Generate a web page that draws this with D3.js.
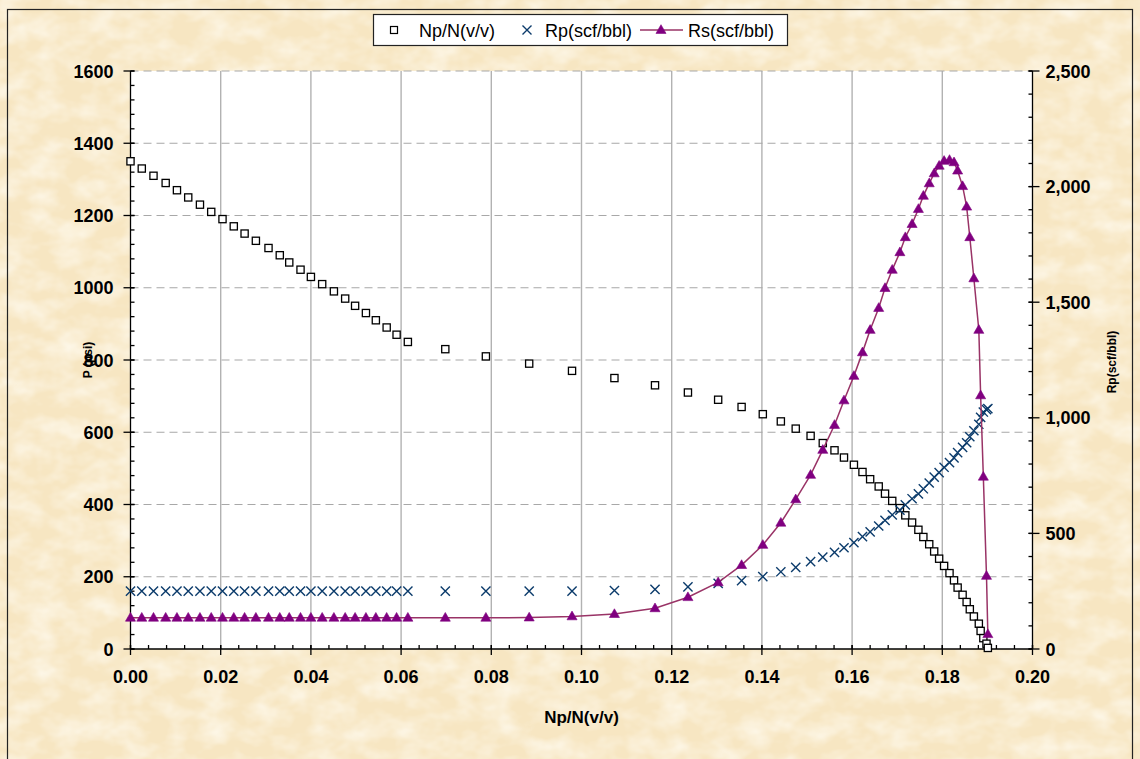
<!DOCTYPE html>
<html>
<head>
<meta charset="utf-8">
<script src="https://cdn.jsdelivr.net/npm/d3@7/dist/d3.min.js"></script>
<style>
  html, body { margin: 0; padding: 0; background: #F8E9C8; }
  svg { display: block; }
  text { font-family: "Liberation Sans", Arial, sans-serif; }
</style>
</head>
<body>
<svg id="chart" width="1140" height="759"></svg>
<script>
// ---------------- DATA ----------------
const npn = [
  0.0000, 0.0025, 0.0051, 0.0078, 0.0103, 0.0128, 0.0154, 0.0179, 0.0204, 0.0229,
  0.0253, 0.0278, 0.0306, 0.0331, 0.0352, 0.0377, 0.0400, 0.0425, 0.0451, 0.0476,
  0.0498, 0.0522, 0.0544, 0.0568, 0.0590, 0.0615,
  0.0698, 0.0788, 0.0884, 0.0979, 0.1073, 0.1163, 0.1236, 0.1303, 0.1355, 0.1402,
  0.1442, 0.1475, 0.1508, 0.1535,
  0.1561, 0.1582, 0.1604, 0.1623, 0.1640, 0.1659, 0.1673, 0.1689, 0.1706, 0.1718,
  0.1733, 0.1747, 0.1758, 0.1771, 0.1782, 0.1793, 0.1804, 0.1816, 0.1826, 0.1834,
  0.1845, 0.1854, 0.1861, 0.1870, 0.1881, 0.1885, 0.1891, 0.1898, 0.1901
];
const pressure = [
  1350, 1330, 1310, 1290, 1270, 1250, 1230, 1210, 1190, 1170,
  1150, 1130, 1110, 1090, 1070, 1050, 1030, 1010, 990, 970,
  950, 930, 910, 890, 870, 850,
  830, 810, 790, 770, 750, 730, 710, 690, 670, 650,
  630, 610, 590, 570,
  550, 530, 510, 490, 470, 450, 430, 410, 390, 370,
  350, 330, 310, 290, 270, 250, 230, 210, 190, 170,
  150, 130, 110, 90, 70, 50, 30, 14.7, 3
];
const rp = [
  250, 250, 250, 250, 250, 250, 250, 250, 250, 250,
  250, 250, 250, 250, 250, 250, 250, 250, 250, 250,
  250, 250, 250, 250, 250, 250,
  250, 250, 250, 250, 253, 258, 269, 284, 296, 313,
  334, 353, 378, 397,
  418, 438, 460, 486, 507, 532, 556, 580, 601, 623,
  650, 671, 693, 718, 743, 763, 786, 806, 827, 849,
  872, 892, 918, 944, 972, 1002, 1025, 1035, 1040
];
const rs = [
  135, 135, 135, 135, 135, 135, 135, 135, 135, 135,
  135, 135, 135, 135, 135, 135, 135, 135, 135, 135,
  135, 135, 135, 135, 135, 135,
  135, 135, 136, 141, 151, 176, 224, 288, 363, 450,
  546, 647, 753, 861,
  969, 1075, 1181, 1283, 1380, 1475, 1561, 1640, 1716, 1781,
  1838, 1903, 1960, 2014, 2057, 2090, 2111, 2115, 2105, 2069,
  2002, 1913, 1781, 1603, 1380, 1097, 745, 316, 64
];
const xTicks = [0, 0.02, 0.04, 0.06, 0.08, 0.10, 0.12, 0.14, 0.16, 0.18, 0.20];
const yLeftTicks = [0, 200, 400, 600, 800, 1000, 1200, 1400, 1600];
const yRightTicks = [0, 500, 1000, 1500, 2000, 2500];
const seriesNames = ["Np/N(v/v)", "Rp(scf/bbl)", "Rs(scf/bbl)"];
const xTitle = "Np/N(v/v)";
const yLeftTitle = "P (psi)";
const yRightTitle = "Rp(scf/bbl)";

// ---------------- LAYOUT ----------------
const W = 1140, H = 759;
const plot = { left: 130.5, right: 1032.5, top: 71, bottom: 649 };
const svg = d3.select("#chart");
const FONT = '"Liberation Sans", Arial, sans-serif';

// background with subtle paper texture
const defs = svg.append("defs");
const f = defs.append("filter").attr("id", "paper")
  .attr("x", 0).attr("y", 0).attr("width", W).attr("height", H)
  .attr("filterUnits", "userSpaceOnUse");
f.append("feTurbulence").attr("type", "fractalNoise")
  .attr("baseFrequency", "0.035 0.05").attr("numOctaves", 3).attr("seed", 11).attr("result", "n");
f.append("feColorMatrix").attr("type", "matrix")
  .attr("values", "0 0 0 0 1  0 0 0 0 0.975  0 0 0 0 0.90  1.3 0 0 0 -0.45");

svg.append("rect").attr("x", 0).attr("y", 0).attr("width", W).attr("height", H).attr("fill", "#F7E6C2");
svg.append("rect").attr("x", 0).attr("y", 0).attr("width", W).attr("height", H)
  .attr("filter", "url(#paper)");
// outer border
svg.append("rect").attr("x", 7.5).attr("y", 9.5).attr("width", 1125).attr("height", 760)
  .attr("fill", "none").attr("stroke", "#222").attr("stroke-width", 1.2);

// plot area
svg.append("rect").attr("x", plot.left).attr("y", plot.top)
  .attr("width", plot.right - plot.left).attr("height", plot.bottom - plot.top)
  .attr("fill", "#ffffff");

const x = d3.scaleLinear().domain([0, 0.2]).range([plot.left, plot.right]);
const yL = d3.scaleLinear().domain([0, 1600]).range([plot.bottom, plot.top]);
const yR = d3.scaleLinear().domain([0, 2500]).range([plot.bottom, plot.top]);

// gridlines
const grid = svg.append("g");
grid.selectAll("line.v").data(xTicks.filter(t => t > 0 && t < 0.2)).enter().append("line")
  .attr("x1", d => x(d)).attr("x2", d => x(d)).attr("y1", plot.top).attr("y2", plot.bottom)
  .attr("stroke", "#B2B2B2").attr("stroke-width", 1.4);
grid.selectAll("line.h").data(yLeftTicks.filter(t => t > 0)).enter().append("line")
  .attr("x1", plot.left).attr("x2", plot.right).attr("y1", d => yL(d)).attr("y2", d => yL(d))
  .attr("stroke", "#A8A8A8").attr("stroke-width", 1.2).attr("stroke-dasharray", "8,5");

// axes
const axisG = svg.append("g").attr("stroke", "#000").attr("stroke-width", 1.3);
axisG.append("line").attr("x1", plot.left).attr("x2", plot.right).attr("y1", plot.bottom).attr("y2", plot.bottom);
const xMinor = d3.range(0, 51).map(i => i * 0.004);
axisG.selectAll("line.xm").data(xMinor).enter().append("line")
  .attr("x1", d => x(d)).attr("x2", d => x(d)).attr("y1", plot.bottom).attr("y2", plot.bottom - 4);
axisG.selectAll("line.xM").data(xTicks).enter().append("line")
  .attr("x1", d => x(d)).attr("x2", d => x(d)).attr("y1", plot.bottom - 4).attr("y2", plot.bottom + 6);
axisG.append("line").attr("x1", plot.left).attr("x2", plot.left).attr("y1", plot.top).attr("y2", plot.bottom);
const yLMinor = d3.range(0, 41).map(i => i * 40);
axisG.selectAll("line.ylm").data(yLMinor).enter().append("line")
  .attr("x1", plot.left).attr("x2", plot.left + 4).attr("y1", d => yL(d)).attr("y2", d => yL(d));
axisG.selectAll("line.ylM").data(yLeftTicks).enter().append("line")
  .attr("x1", plot.left - 7).attr("x2", plot.left + 4).attr("y1", d => yL(d)).attr("y2", d => yL(d));
axisG.append("line").attr("x1", plot.right).attr("x2", plot.right).attr("y1", plot.top).attr("y2", plot.bottom);
const yRMinor = d3.range(0, 26).map(i => i * 100);
axisG.selectAll("line.yrm").data(yRMinor).enter().append("line")
  .attr("x1", plot.right - 4).attr("x2", plot.right).attr("y1", d => yR(d)).attr("y2", d => yR(d));
axisG.selectAll("line.yrM").data(yRightTicks).enter().append("line")
  .attr("x1", plot.right - 4).attr("x2", plot.right + 7).attr("y1", d => yR(d)).attr("y2", d => yR(d));

// tick labels
const lab = svg.append("g").attr("font-family", FONT).attr("font-weight", "bold").attr("font-size", 18).attr("fill", "#000");
lab.selectAll("text.x").data(xTicks).enter().append("text")
  .attr("x", d => x(d)).attr("y", plot.bottom + 34).attr("text-anchor", "middle")
  .text(d => d3.format(".2f")(d));
lab.selectAll("text.yl").data(yLeftTicks).enter().append("text")
  .attr("x", plot.left - 17).attr("y", d => yL(d) + 6.5).attr("text-anchor", "end")
  .text(d => d);
lab.selectAll("text.yr").data(yRightTicks).enter().append("text")
  .attr("x", plot.right + 13).attr("y", d => yR(d) + 6.5).attr("text-anchor", "start")
  .text(d => d3.format(",")(d));

// axis titles
svg.append("text").attr("x", (plot.left + plot.right) / 2).attr("y", 723)
  .attr("text-anchor", "middle").attr("font-family", FONT).attr("font-weight", "bold")
  .attr("font-size", 17).text(xTitle);
svg.append("text").attr("transform", "translate(92,360) rotate(-90)")
  .attr("text-anchor", "middle").attr("font-family", FONT).attr("font-weight", "bold")
  .attr("font-size", 12).text(yLeftTitle);
svg.append("text").attr("transform", "translate(1116,362) rotate(-90)")
  .attr("text-anchor", "middle").attr("font-family", FONT).attr("font-weight", "bold")
  .attr("font-size", 12).text(yRightTitle);

// ---------------- SERIES ----------------
const rows = npn.map((v, i) => ({ x: v, p: pressure[i], rp: rp[i], rs: rs[i] }));
const sq = 3.6;
const tri = d3.symbol().type(d3.symbolTriangle).size(44);

svg.append("g").selectAll("rect").data(rows).enter().append("rect")
  .attr("x", d => x(d.x) - sq).attr("y", d => yL(d.p) - sq)
  .attr("width", sq * 2).attr("height", sq * 2)
  .attr("fill", "#fff").attr("stroke", "#000").attr("stroke-width", 1.3);

const xs = 4.6;
const gx = svg.append("g").attr("stroke", "#0B3B6B").attr("stroke-width", 1.4);
gx.selectAll("path").data(rows).enter().append("path")
  .attr("d", d => {
    const cx = x(d.x), cy = yR(d.rp);
    return `M${cx - xs},${cy - xs}L${cx + xs},${cy + xs}M${cx - xs},${cy + xs}L${cx + xs},${cy - xs}`;
  });

svg.append("path").datum(rows)
  .attr("d", d3.line().x(d => x(d.x)).y(d => yR(d.rs)))
  .attr("fill", "none").attr("stroke", "#993366").attr("stroke-width", 1.5);
svg.append("g").selectAll("path").data(rows).enter().append("path")
  .attr("transform", d => `translate(${x(d.x)},${yR(d.rs) + 0.5})`)
  .attr("d", tri).attr("fill", "#800080").attr("stroke", "#800080").attr("stroke-width", 0.6);

// ---------------- LEGEND ----------------
const lg = svg.append("g");
lg.append("rect").attr("x", 373.5).attr("y", 14.5).attr("width", 414).attr("height", 31)
  .attr("fill", "#fff").attr("stroke", "#222").attr("stroke-width", 1.2);
const ly = 30;
lg.append("rect").attr("x", 394 - 3.5).attr("y", ly - 3.5).attr("width", 7).attr("height", 7)
  .attr("fill", "#fff").attr("stroke", "#000").attr("stroke-width", 1.2);
lg.append("path")
  .attr("d", `M${527 - 4.5},${ly - 4.5}L${527 + 4.5},${ly + 4.5}M${527 - 4.5},${ly + 4.5}L${527 + 4.5},${ly - 4.5}`)
  .attr("stroke", "#0B3B6B").attr("stroke-width", 1.4);
lg.append("line").attr("x1", 640).attr("x2", 683).attr("y1", ly).attr("y2", ly)
  .attr("stroke", "#993366").attr("stroke-width", 1.5);
lg.append("path").attr("transform", `translate(661,${ly + 0.5})`).attr("d", tri)
  .attr("fill", "#800080").attr("stroke", "#800080").attr("stroke-width", 0.6);
const legX = [419, 545, 688];
lg.selectAll("text").data(seriesNames).enter().append("text")
  .attr("x", (d, i) => legX[i]).attr("y", ly + 6.5)
  .attr("font-family", FONT).attr("font-size", 18).attr("fill", "#000")
  .text(d => d);
</script>
</body>
</html>
